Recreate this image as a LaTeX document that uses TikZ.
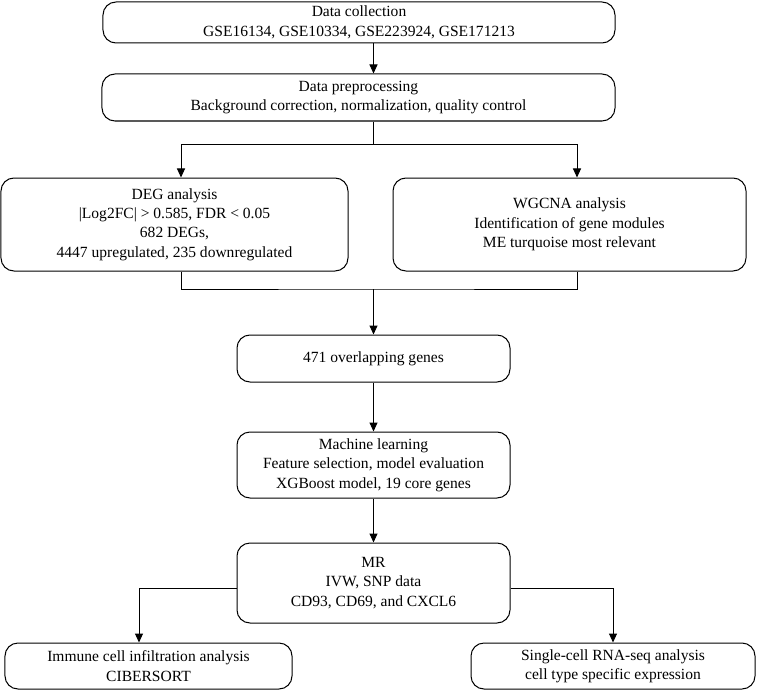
\documentclass[tikz,border=0pt]{standalone}
\usepackage{fontspec}
\setmainfont{Liberation Serif}
\usetikzlibrary{arrows.meta}
\begin{document}
\begin{tikzpicture}[x=1bp,y=-1bp,
  box/.style={draw, line width=1bp, rounded corners=13bp, align=center, inner sep=0pt,
    font=\fontsize{15.6pt}{19.5pt}\selectfont},
  arr/.style={line width=1bp, -{Triangle[length=9bp,width=8bp]}},
  ln/.style={line width=1bp}]
\useasboundingbox (0,0) rectangle (761,691);
\node[box, minimum width=512bp, minimum height=41bp] (dc) at (359,22.5)
  {Data collection\\GSE16134, GSE10334, GSE223924, GSE171213};
\node[box, minimum width=513bp, minimum height=47bp] (dp) at (358.5,97.5)
  {Data preprocessing\\Background correction, normalization, quality control};
\node[box, minimum width=347bp, minimum height=93bp] (deg) at (174.5,224.5)
  {DEG analysis\\|Log2FC| > 0.585, FDR < 0.05\\682 DEGs,\\4447 upregulated, 235 downregulated};
\node[box, minimum width=353bp, minimum height=93bp] (wg) at (569.5,224.5)
  {WGCNA analysis\\Identification of gene modules\\ME turquoise most relevant};
\node[box, minimum width=273bp, minimum height=47bp] (ov) at (373.5,358.5)
  {471 overlapping genes};
\node[box, minimum width=273bp, minimum height=66bp] (ml) at (373.5,465)
  {Machine learning\\Feature selection, model evaluation\\XGBoost model, 19 core genes};
\node[box, minimum width=273bp, minimum height=80bp] (mr) at (373.5,583)
  {MR\\IVW, SNP data\\CD93, CD69, and CXCL6};
\node[box, minimum width=287bp, minimum height=46bp] (im) at (148.5,666)
  {Immune cell infiltration analysis\\CIBERSORT};
\node[box, minimum width=284bp, minimum height=46bp] (sc) at (613,666)
  {Single-cell RNA-seq analysis\\cell type specific expression};
\coordinate (xd) at (181,0);
\coordinate (xw) at (577,0);
\coordinate (xi) at (139,0);
\coordinate (j1) at (373.5,144);
\coordinate (j2) at (373.5,289);
\coordinate (yb) at (0,588);
\draw[arr] (dc.south -| ov.north) -- (dp.north -| ov.north);
\draw[ln] (dp.south -| j1) -- (j1);
\draw[arr] (j1) -| (deg.north -| xd);
\draw[arr] (j1) -| (wg.north -| xw);
\draw[ln] (deg.south -| xd) |- (j2) -| (wg.south -| xw);
\draw[arr] (j2) -- (ov.north);
\draw[arr] (ov) -- (ml);
\draw[arr] (ml) -- (mr);
\draw[arr] (mr.west |- yb) -| (im.north -| xi);
\draw[arr] (mr.east |- yb) -| (sc.north);
\end{tikzpicture}
\end{document}
